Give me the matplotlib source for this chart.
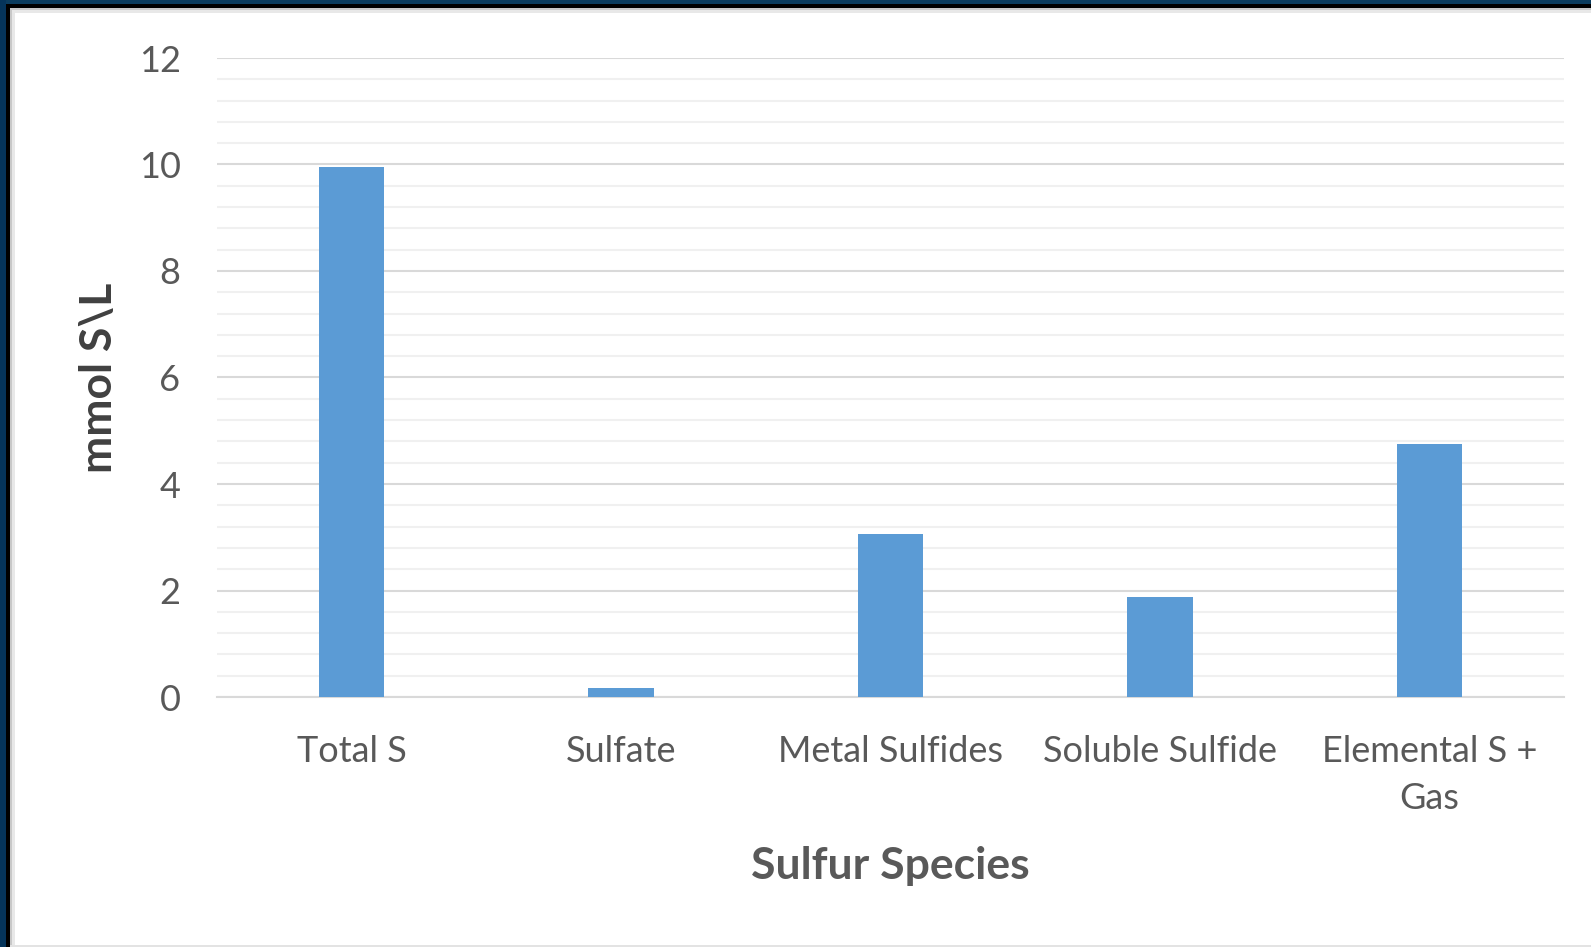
import numpy as np
import matplotlib.pyplot as plt
from matplotlib.patches import Rectangle

# Sulfur species concentrations
categories = ['Total S', 'Sulfate', 'Metal Sulfides', 'Soluble Sulfide', 'Elemental S +\nGas']
values = [9.96, 0.16, 3.07, 1.87, 4.75]
y_ticks = [0, 2, 4, 6, 8, 10, 12]

W, H = 1591, 947
plt.rcParams['font.family'] = ['Lato', 'DejaVu Sans']

fig = plt.figure(figsize=(W / 100, H / 100), dpi=100)
fig.patch.set_facecolor('white')

# slide frame (dark border on left and top)
def px_rect(x0, y0, w, h, color):
    fig.add_artist(Rectangle((x0 / W, 1 - (y0 + h) / H), w / W, h / H,
                             transform=fig.transFigure, color=color, lw=0, zorder=0))

px_rect(0, 0, W, 4, '#0b3c5e')
px_rect(0, 0, 6, H, '#05345a')
px_rect(6, 4, W, 4, '#000000')
px_rect(6, 4, 4, H, '#000000')
px_rect(10, 8, W, 2, '#c8c8c8')
px_rect(10, 8, 2, H, '#c8c8c8')
px_rect(12, 10, W, 3, '#e8e8e8')
px_rect(12, 10, 3, H, '#e8e8e8')
px_rect(10, H - 2, W, 2, '#e3e3e3')

ax = fig.add_axes([216.7 / W, (H - 697) / H, (1564 - 216.7) / W, (697 - 58) / H])
x = np.arange(len(categories))
ax.bar(x, values, width=0.243, color='#5b9bd5', zorder=3)

ax.set_xlim(-0.5, len(categories) - 0.5)
ax.set_ylim(0, 12)
ax.set_yticks(y_ticks)
ax.set_yticks(np.arange(0, 12, 0.4), minor=True)
ax.yaxis.grid(True, which='major', color='#d9d9d9', lw=1.5, zorder=0)
ax.yaxis.grid(True, which='minor', color='#f0f0f0', lw=1.5, zorder=0)
for s in ['top', 'right', 'left']:
    ax.spines[s].set_visible(False)
ax.spines['bottom'].set_color('#d9d9d9')
ax.spines['bottom'].set_linewidth(1.5)

ax.set_xticks(x)
ax.set_xticklabels(categories, fontsize=26, color='#595959', linespacing=1.54)
ax.tick_params(axis='x', length=0, pad=27)
ax.tick_params(axis='y', which='both', length=0, pad=26, labelsize=26, labelcolor='#595959')

ax.set_xlabel('Sulfur Species', fontsize=32, fontweight='bold', color='#595959', labelpad=22)
ax.set_ylabel('mmol S\\L', fontsize=32, fontweight='bold', color='#404040', labelpad=14)

plt.savefig('out.png', dpi=100)
